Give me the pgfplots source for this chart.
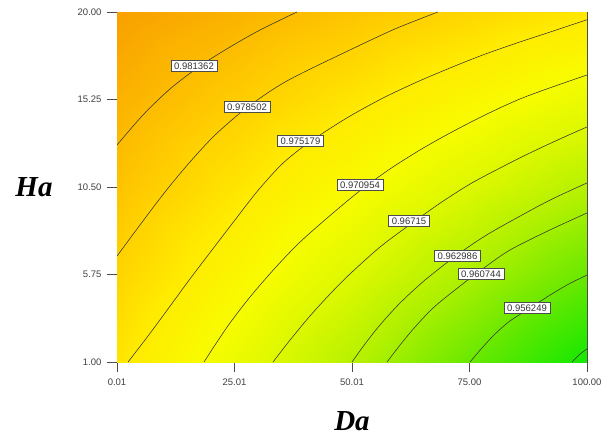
\documentclass[border=0pt]{standalone}
\usepackage{fontspec}
\setmainfont{Liberation Sans}
\newfontfamily\labelserif{Liberation Serif}
\usepackage{pgfplots}
\pgfplotsset{compat=1.18}

% response values on a regular Da x Ha grid (Da varies fastest)
\pgfplotstableread{
D      H      f
0.01   1.00   0.97579
25.00  1.00   0.96933
50.00  1.00   0.96287
75.00  1.00   0.95641
100.00 1.00   0.94995
0.01   5.75   0.97804
25.00  5.75   0.97261
50.00  5.75   0.96718
75.00  5.75   0.96175
100.00 5.75   0.95632
0.01   10.50  0.98028
25.00  10.50  0.97589
50.00  10.50  0.97150
75.00  10.50  0.96711
100.00 10.50  0.96273
0.01   15.25  0.98253
25.00  15.25  0.97917
50.00  15.25  0.97582
75.00  15.25  0.97247
100.00 15.25  0.96911
0.01   20.00  0.98477
25.00  20.00  0.98245
50.00  20.00  0.98014
75.00  20.00  0.97782
100.00 20.00  0.97550
}\gridtable

\pgfplotsset{
  colormap={desir}{
    rgb255(0cm)=(20,232,0);
    rgb255(6cm)=(100,232,0);
    rgb255(12cm)=(175,240,0);
    rgb255(17cm)=(220,248,0);
    rgb255(21cm)=(248,252,0);
    rgb255(25cm)=(255,235,0);
    rgb255(29cm)=(255,205,0);
    rgb255(35cm)=(248,158,0)
  },
  contourline/.style={black!80, line width=0.55pt, smooth, tension=0.5},
}
\tikzset{
  clabel/.style={draw=black!70, fill=white, line width=0.5pt, text=black!80,
    font=\fontsize{9.5}{10}\selectfont, inner xsep=3.3pt, inner ysep=2.3pt},
}

\begin{document}
\begin{tikzpicture}
\useasboundingbox (0,0) rectangle (613pt,439pt);
\begin{axis}[
  at={(117pt,77pt)}, anchor=south west,
  width=470pt, height=350pt, scale only axis,
  xmin=0.01, xmax=100, ymin=1, ymax=20,
  xtick={0.01,25.01,50.01,75,100},
  xticklabels={0.01,25.01,50.01,75.00,100.00},
  ytick={1,5.75,10.5,15.25,20},
  yticklabels={1.00,5.75,10.50,15.25,20.00},
  tick align=outside, xtick pos=bottom, ytick pos=left,
  major tick length=10pt,
  tick style={black!70, line width=0.6pt},
  ticklabel style={font=\fontsize{9.5}{10}\selectfont, text=black!75},
  xticklabel style={yshift=-3pt},
  yticklabel style={xshift=-2pt},
  axis line style={black!70, line width=0.6pt},
  colormap name=desir,
  point meta min=0.950, point meta max=0.985,
  xlabel={Da}, ylabel={Ha},
  every axis x label/.style={at={(axis description cs:0.5,0)}, anchor=center,
    yshift=-59pt, font=\labelserif\bfseries\itshape\fontsize{29}{30}\selectfont},
  every axis y label/.style={at={(axis description cs:0,0.5)}, anchor=center,
    xshift=-83pt, font=\labelserif\bfseries\itshape\fontsize{29}{30}\selectfont},
]
\addplot[surf, shader=interp, mesh/cols=5, point meta=explicit]
  table[x=D, y=H, meta=f] {\gridtable};

% contour lines
\addplot[contourline] coordinates {(0.01,12.78) (5.54,14.41) (11.28,15.82) (17.67,17.07) (24.05,18.10) (30.43,19.02) (38.30,20.00)};
\addplot[contourline] coordinates {(0.01,6.75) (4.90,8.44) (10.22,10.23) (15.54,11.86) (20.86,13.32) (27.24,14.73) (33.62,15.87) (38.94,16.63) (49.57,17.94) (59.15,19.08) (68.30,20.00)};
\addplot[contourline] coordinates {(2.35,1.00) (6.61,2.41) (10.86,3.88) (15.54,5.51) (20.22,7.08) (25.11,8.71) (29.80,10.25) (34.69,11.64) (38.94,12.56) (43.84,13.43) (49.58,14.35) (56.60,15.33) (63.83,16.20) (70.85,16.96) (77.87,17.67) (85.11,18.32) (92.13,18.91) (100,19.58)};
\addplot[contourline] coordinates {(18.52,1.00) (20.86,1.92) (24.05,3.12) (28.31,4.53) (33.63,6.10) (38.95,7.51) (45.33,8.95) (51.71,10.30) (58.09,11.48) (64.47,12.51) (70.86,13.43) (78.30,14.41) (85.75,15.28) (93.19,15.98) (100,16.58)};
\addplot[contourline] coordinates {(33.20,1.00) (36.82,2.19) (41.07,3.50) (45.33,4.69) (49.58,5.78) (55.96,7.24) (62.35,8.46) (68.73,9.62) (75.11,10.66) (81.49,11.53) (87.88,12.35) (94.26,13.11) (100,13.76)};
\addplot[contourline] coordinates {(50.01,1.00) (52.77,1.98) (55.96,3.01) (60.22,4.20) (65.54,5.45) (72.35,6.81) (78.30,7.84) (84.26,8.71) (92.13,9.79) (100,10.72)};
\addplot[contourline] coordinates {(57.46,1.00) (60.22,1.92) (63.41,2.90) (67.24,3.93) (71.92,4.91) (77.45,5.99) (83.62,7.08) (92.13,8.17) (100,9.09)};
\addplot[contourline] coordinates {(75.11,1.00) (77.66,1.76) (80.43,2.52) (83.62,3.23) (87.24,3.82) (91.49,4.53) (95.75,5.18) (100,5.72)};
\addplot[contourline] coordinates {(96.82,1.00) (98.52,1.43) (100,1.71)};

% contour level labels
\node[clabel] at (axis cs:16.39,17.07) {0.981362};
\node[clabel] at (axis cs:27.67,14.84) {0.978502};
\node[clabel] at (axis cs:39.05,13.00) {0.975179};
\node[clabel] at (axis cs:51.71,10.61) {0.970954};
\node[clabel] at (axis cs:62.13,8.65) {0.96715};
\node[clabel] at (axis cs:72.45,6.75) {0.962986};
\node[clabel] at (axis cs:77.45,5.78) {0.960744};
\node[clabel] at (axis cs:87.24,3.93) {0.956249};
\end{axis}
\end{tikzpicture}
\end{document}
